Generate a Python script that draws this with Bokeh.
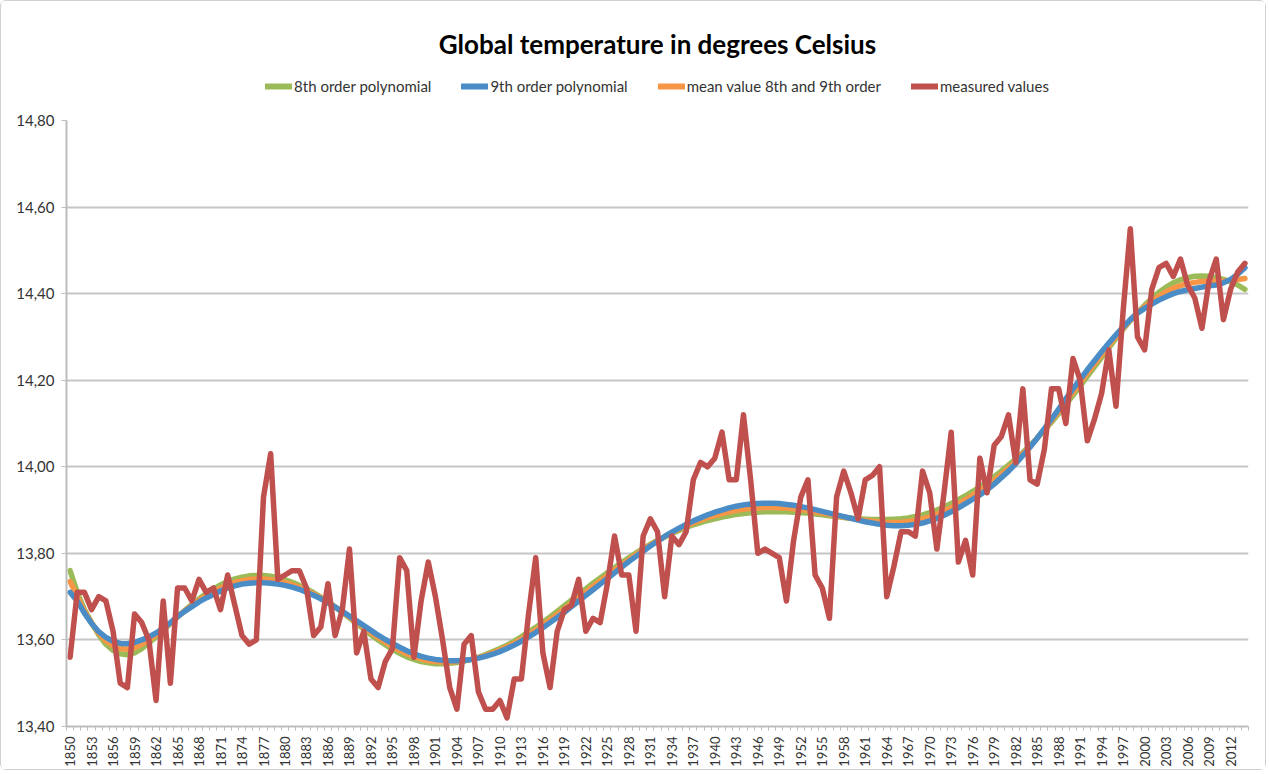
import math
from bokeh.plotting import figure
from bokeh.layouts import column
from bokeh.models import (FixedTicker, Legend, LegendItem, ColumnDataSource, Range1d,
                          Title)
from bokeh.embed import file_html
from bokeh.resources import INLINE

years = list(range(1850, 2015))

measured = [
    13.56, 13.71, 13.71, 13.67, 13.70, 13.69, 13.62, 13.50, 13.49, 13.66,  # 1850s
    13.64, 13.60, 13.46, 13.69, 13.50, 13.72, 13.72, 13.69, 13.74, 13.71,  # 1860s
    13.72, 13.67, 13.75, 13.68, 13.61, 13.59, 13.60, 13.93, 14.03, 13.74,  # 1870s
    13.75, 13.76, 13.76, 13.72, 13.61, 13.63, 13.73, 13.61, 13.67, 13.81,  # 1880s
    13.57, 13.62, 13.51, 13.49, 13.55, 13.58, 13.79, 13.76, 13.56, 13.69,  # 1890s
    13.78, 13.70, 13.60, 13.49, 13.44, 13.59, 13.61, 13.48, 13.44, 13.44,  # 1900s
    13.46, 13.42, 13.51, 13.51, 13.66, 13.79, 13.57, 13.49, 13.62, 13.67,  # 1910s
    13.68, 13.74, 13.62, 13.65, 13.64, 13.73, 13.84, 13.75, 13.75, 13.62,  # 1920s
    13.84, 13.88, 13.85, 13.70, 13.84, 13.82, 13.85, 13.97, 14.01, 14.00,  # 1930s
    14.02, 14.08, 13.97, 13.97, 14.12, 13.97, 13.80, 13.81, 13.80, 13.79,  # 1940s
    13.69, 13.83, 13.93, 13.97, 13.75, 13.72, 13.65, 13.93, 13.99, 13.94,  # 1950s
    13.88, 13.97, 13.98, 14.00, 13.70, 13.77, 13.85, 13.85, 13.84, 13.99,  # 1960s
    13.94, 13.81, 13.94, 14.08, 13.78, 13.83, 13.75, 14.02, 13.94, 14.05,  # 1970s
    14.07, 14.12, 14.01, 14.18, 13.97, 13.96, 14.04, 14.18, 14.18, 14.10,  # 1980s
    14.25, 14.20, 14.06, 14.11, 14.17, 14.27, 14.14, 14.36, 14.55, 14.30,  # 1990s
    14.27, 14.41, 14.46, 14.47, 14.44, 14.48, 14.42, 14.39, 14.32, 14.43,  # 2000s
    14.48, 14.34, 14.41, 14.45, 14.47,                                      # 2010s
]

poly8 = [
    13.760, 13.710, 13.670, 13.640, 13.612, 13.590, 13.576, 13.568, 13.566, 13.570,
    13.580, 13.593, 13.607, 13.622, 13.638, 13.653, 13.668, 13.682, 13.695, 13.707,
    13.718, 13.727, 13.735, 13.741, 13.745, 13.748, 13.749, 13.749, 13.747, 13.744,
    13.739, 13.733, 13.726, 13.718, 13.709, 13.699, 13.688, 13.676, 13.664, 13.651,
    13.638, 13.625, 13.612, 13.600, 13.589, 13.578, 13.569, 13.561, 13.555, 13.550,
    13.547, 13.545, 13.545, 13.546, 13.548, 13.551, 13.555, 13.560, 13.566, 13.573,
    13.580, 13.588, 13.597, 13.607, 13.618, 13.629, 13.641, 13.653, 13.666, 13.679,
    13.692, 13.705, 13.718, 13.731, 13.743, 13.755, 13.767, 13.779, 13.790, 13.801,
    13.811, 13.821, 13.830, 13.838, 13.846, 13.853, 13.860, 13.866, 13.871, 13.876,
    13.880, 13.884, 13.887, 13.890, 13.892, 13.894, 13.895, 13.896, 13.896, 13.896,
    13.896, 13.895, 13.894, 13.893, 13.891, 13.889, 13.887, 13.885, 13.883, 13.881,
    13.880, 13.879, 13.878, 13.878, 13.878, 13.879, 13.880, 13.882, 13.885, 13.889,
    13.894, 13.900, 13.907, 13.915, 13.924, 13.933, 13.943, 13.954, 13.965, 13.977,
    13.990, 14.004, 14.018, 14.033, 14.049, 14.066, 14.084, 14.103, 14.123, 14.144,
    14.165, 14.187, 14.209, 14.231, 14.253, 14.275, 14.297, 14.318, 14.338, 14.356,
    14.373, 14.389, 14.403, 14.415, 14.425, 14.432, 14.437, 14.440, 14.441, 14.440,
    14.437, 14.433, 14.427, 14.420, 14.410,
]

poly9 = [
    13.710, 13.690, 13.662, 13.638, 13.619, 13.606, 13.597, 13.592, 13.591, 13.594,
    13.600, 13.607, 13.616, 13.627, 13.640, 13.654, 13.666, 13.677, 13.688, 13.697,
    13.705, 13.713, 13.720, 13.725, 13.729, 13.731, 13.732, 13.732, 13.731, 13.729,
    13.726, 13.722, 13.717, 13.710, 13.703, 13.695, 13.686, 13.676, 13.666, 13.655,
    13.644, 13.633, 13.622, 13.611, 13.601, 13.592, 13.583, 13.575, 13.568, 13.562,
    13.558, 13.555, 13.553, 13.552, 13.552, 13.553, 13.555, 13.558, 13.562, 13.567,
    13.573, 13.580, 13.588, 13.597, 13.607, 13.617, 13.628, 13.640, 13.652, 13.664,
    13.677, 13.690, 13.703, 13.716, 13.729, 13.742, 13.755, 13.768, 13.781, 13.793,
    13.805, 13.817, 13.828, 13.839, 13.849, 13.858, 13.867, 13.875, 13.882, 13.889,
    13.895, 13.900, 13.905, 13.909, 13.912, 13.914, 13.915, 13.916, 13.916, 13.915,
    13.913, 13.911, 13.908, 13.905, 13.901, 13.897, 13.893, 13.889, 13.885, 13.881,
    13.877, 13.873, 13.870, 13.867, 13.865, 13.864, 13.864, 13.865, 13.867, 13.870,
    13.875, 13.881, 13.888, 13.896, 13.905, 13.915, 13.925, 13.935, 13.947, 13.960,
    13.975, 13.990, 14.007, 14.026, 14.045, 14.066, 14.088, 14.110, 14.133, 14.157,
    14.180, 14.202, 14.224, 14.245, 14.266, 14.286, 14.305, 14.323, 14.340, 14.355,
    14.366, 14.376, 14.385, 14.393, 14.400, 14.405, 14.409, 14.412, 14.415, 14.418,
    14.420, 14.425, 14.433, 14.445, 14.460,
]

# the chart's third series is defined as the mean of the two fits
mean89 = [(a + b) / 2 for a, b in zip(poly8, poly9)]

y_ticks = [13.40, 13.60, 13.80, 14.00, 14.20, 14.40, 14.60, 14.80]
y_tick_labels = ["13,40", "13,60", "13,80", "14,00", "14,20", "14,40", "14,60", "14,80"]
x_ticks = list(range(1850, 2013, 3))
x_tick_labels = [str(y) for y in x_ticks]

series_names = ["8th order polynomial", "9th order polynomial",
                "mean value 8th and 9th order", "measured values"]
series_fields = ["poly8", "poly9", "mean89", "measured"]
series_colors = ["#9bbb59", "#4a8cc6", "#f79646", "#c0504d"]
title_text = "Global temperature in degrees Celsius"

FONT = "Lato"
W = 1264

src = ColumnDataSource(dict(year=years, measured=measured, poly8=poly8,
                            poly9=poly9, mean89=mean89))

# ---------------- header: title + legend ----------------
header = figure(width=W, height=111, output_backend="svg", toolbar_location=None,
                title=None,
                x_range=Range1d(0, 1), y_range=Range1d(0, 1),
                min_border_left=0, min_border_right=0, min_border_top=0,
                min_border_bottom=0)
header.axis.visible = False
header.grid.visible = False
header.outline_line_color = None
header.border_fill_color = "white"

# the title, then blank space above it (the last item of "above" is outermost)
header.add_layout(Title(text=title_text, align="center", text_font=FONT,
                        text_font_size="26px", text_font_style="bold",
                        text_color="#000000", standoff=0), "above")
header.add_layout(Title(text=" ", text_font_size="12px", standoff=8), "above")

# legend proxies: the same series, drawn on the header's own (0..1) ranges,
# so they stay out of view and only feed the legend glyphs
legend_renderers = [header.line("year", f, source=src, line_color=c, line_width=6,
                                line_cap="round")
                    for f, c in zip(series_fields, series_colors)]
legend = Legend(items=[LegendItem(label=n, renderers=[r])
                       for n, r in zip(series_names, legend_renderers)],
                orientation="horizontal", location="center",
                border_line_color=None, background_fill_alpha=0,
                label_text_font=FONT, label_text_font_size="15px",
                label_text_color="#333333",
                glyph_width=27, glyph_height=12, label_standoff=2,
                spacing=30, padding=0, margin=0)
header.add_layout(legend, "center")

# ---------------- main plot ----------------
p = figure(width=W, height=657, output_backend="svg", toolbar_location=None,
           x_range=Range1d(years[0] - 0.5, years[-1] + 0.5),
           y_range=Range1d(y_ticks[0], y_ticks[-1]),
           min_border_left=65, min_border_right=17, min_border_top=8,
           min_border_bottom=40)

p.outline_line_color = None
p.background_fill_color = "white"
p.border_fill_color = "white"

p.xgrid.grid_line_color = None
p.ygrid.grid_line_color = "#c6c6c6"
p.ygrid.grid_line_width = 2
p.ygrid.ticker = FixedTicker(ticks=y_ticks)

p.yaxis.ticker = FixedTicker(ticks=y_ticks)
p.yaxis.major_label_overrides = {t: l for t, l in zip(y_ticks, y_tick_labels)}
p.yaxis.axis_line_color = "#bdbdbd"
p.yaxis.axis_line_width = 2
p.yaxis.major_tick_line_color = "#bdbdbd"
p.yaxis.major_tick_out = 5
p.yaxis.major_tick_in = 0
p.yaxis.minor_tick_line_color = None
p.yaxis.major_label_text_font = FONT
p.yaxis.major_label_text_font_size = "15px"
p.yaxis.major_label_text_color = "#333333"
p.yaxis.major_label_standoff = 7

p.xaxis.ticker = FixedTicker(ticks=x_ticks,
                             minor_ticks=[years[0] - 0.5 + i for i in range(len(years) + 1)])
p.xaxis.major_label_overrides = {t: l for t, l in zip(x_ticks, x_tick_labels)}
p.xaxis.major_label_orientation = math.pi / 2
p.xaxis.axis_line_color = "#bdbdbd"
p.xaxis.axis_line_width = 2
p.xaxis.major_tick_line_color = None
p.xaxis.minor_tick_line_color = "#bdbdbd"
p.xaxis.minor_tick_out = 4
p.xaxis.minor_tick_in = 0
p.xaxis.major_label_text_font = FONT
p.xaxis.major_label_text_font_size = "13px"
p.xaxis.major_label_text_color = "#333333"
p.xaxis.major_label_standoff = 4

# drawing order: 8th, mean, 9th, measured (measured on top)
for f in ["poly8", "mean89", "poly9", "measured"]:
    c = series_colors[series_fields.index(f)]
    p.line("year", f, source=src, line_color=c, line_width=5.5,
           line_join="round", line_cap="round")

layout = column(header, p, spacing=0)
layout.styles = {"border": "1px solid #d0d0d0", "border-radius": "6px"}

open("out.html", "w").write(file_html(layout, INLINE))
